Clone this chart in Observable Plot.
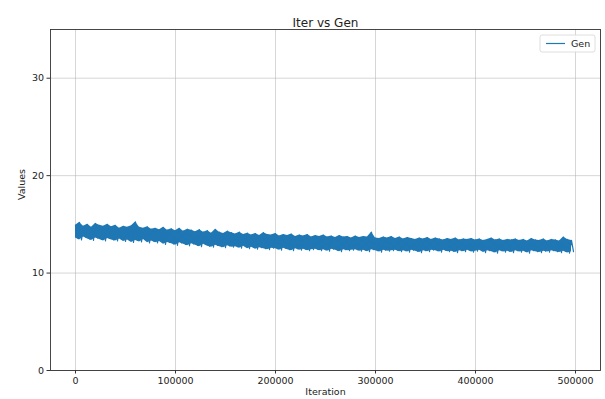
<!DOCTYPE html>
<html><head><meta charset="utf-8">
<script src="https://cdn.jsdelivr.net/npm/d3@7"></script>
<script src="https://cdn.jsdelivr.net/npm/@observablehq/plot@0.6"></script>
<style>body{margin:0;background:#fff;} svg{display:block;}</style>
</head><body><div id="chart"></div>
<script>
const title = "Iter vs Gen";
const xLabel = "Iteration";
const yLabel = "Values";
const seriesName = "Gen";
const xTicks = [0, 100000, 200000, 300000, 400000, 500000];
const yTicks = [0, 10, 20, 30];
const sampleStep = 2000;
// upper swings of the noisy series (at iterations 0, 4000, 8000, ...)
const genHigh = [
  14.9, 15.2, 14.8, 15.0, 14.7, 15.1, 14.9, 14.8, 15.0, 14.75,
  14.9, 14.6, 14.8, 14.7, 14.85, 15.25, 14.7, 14.6, 14.75, 14.5,
  14.6, 14.45, 14.7, 14.4, 14.55, 14.35, 14.6, 14.3, 14.5, 14.4,
  14.25, 14.45, 14.2, 14.35, 14.1, 14.5, 14.2, 14.05, 14.3, 14.15,
  14.0, 14.2, 13.95, 14.1, 13.9, 14.05, 13.85, 14.15, 13.95, 13.9,
  14.05, 13.8, 13.95, 13.85, 14.0, 13.75, 13.9, 13.8, 13.95, 13.7,
  13.85, 13.75, 13.9, 13.7, 13.8, 13.65, 13.85, 13.7, 13.75, 13.6,
  13.8, 13.65, 13.75, 13.7, 14.2, 13.6, 13.55, 13.7, 13.6, 13.75,
  13.55, 13.7, 13.5, 13.65, 13.55, 13.45, 13.6, 13.5, 13.65, 13.45,
  13.6, 13.5, 13.4, 13.55, 13.45, 13.6, 13.4, 13.5, 13.45, 13.55,
  13.4, 13.5, 13.35, 13.45, 13.6, 13.4, 13.5, 13.35, 13.45, 13.4,
  13.5, 13.35, 13.45, 13.3, 13.55, 13.4, 13.35, 13.5, 13.3, 13.45,
  13.4, 13.3, 13.7, 13.45, 13.35
];
// lower swings of the noisy series (at iterations 2000, 6000, 10000, ...)
const genLow = [
  13.6, 13.4, 13.7, 13.5, 13.35, 13.6, 13.45, 13.3, 13.55, 13.4,
  13.3, 13.5, 13.25, 13.4, 13.15, 13.35, 13.2, 13.45, 13.1, 13.3,
  13.1, 13.25, 12.95, 13.15, 13.0, 12.85, 13.1, 12.95, 12.8, 13.0,
  12.85, 12.7, 12.95, 12.75, 12.65, 12.85, 12.7, 12.6, 12.8, 12.65,
  12.7, 12.55, 12.75, 12.5, 12.65, 12.45, 12.6, 12.5, 12.4, 12.55,
  12.5, 12.35, 12.55, 12.4, 12.3, 12.5, 12.35, 12.45, 12.3, 12.4,
  12.45, 12.3, 12.4, 12.25, 12.45, 12.35, 12.2, 12.4, 12.3, 12.35,
  12.4, 12.25, 12.35, 12.2, 12.4, 12.3, 12.15, 12.35, 12.25, 12.3,
  12.35, 12.2, 12.3, 12.15, 12.35, 12.25, 12.1, 12.3, 12.2, 12.35,
  12.3, 12.15, 12.35, 12.2, 12.25, 12.1, 12.3, 12.2, 12.35, 12.15,
  12.25, 12.35, 12.1, 12.3, 12.2, 12.05, 12.3, 12.15, 12.25, 12.1,
  12.3, 12.15, 12.25, 12.05, 12.3, 12.2, 12.1, 12.25, 12.15, 12.3,
  12.2, 12.1, 12.25, 12.05, 12.2
];

// the raw series, alternating between its upper and lower swings
const data = [];
for (let i = 0; i < genHigh.length; i++) {
  data.push({iter: 2 * i * sampleStep, gen: genHigh[i]});
  if (i < genLow.length) data.push({iter: (2 * i + 1) * sampleStep, gen: genLow[i]});
}
// the dense oscillation renders as a solid band between the swings
const band = genHigh.map((hi, i) => ({iter: 2 * i * sampleStep, hi, lo: genLow[i]}));

const font = "'DejaVu Sans', sans-serif";
const lineColor = "#1f77b4";
const chart = Plot.plot({
  width: 605, height: 399,
  marginLeft: 50, marginRight: 5, marginTop: 29, marginBottom: 29,
  style: {fontFamily: font, fontSize: "9.5px", color: "#222", background: "#fff"},
  x: {domain: [-25000, 525000]},
  y: {domain: [0, 35]},
  marks: [
    Plot.gridX(xTicks, {stroke: "#b0b0b0", strokeOpacity: 0.65, strokeWidth: 0.8}),
    Plot.gridY(yTicks, {stroke: "#b0b0b0", strokeOpacity: 0.65, strokeWidth: 0.8}),
    Plot.areaY(band, {x: "iter", y1: "lo", y2: "hi", fill: lineColor}),
    Plot.line(data, {x: "iter", y: "gen", stroke: lineColor, strokeWidth: 1.2}),
    Plot.frame({stroke: "#333", strokeWidth: 0.9}),
    Plot.axisX(xTicks, {tickSize: 3.5, tickPadding: 3, tickFormat: d3.format("d"), label: null, stroke: "#333"}),
    Plot.axisY(yTicks, {tickSize: 3.5, tickPadding: 3, label: null, stroke: "#333"}),
    Plot.text([title], {text: d => d, frameAnchor: "top", dy: -11, fontSize: 12, fill: "#222"}),
    Plot.text([xLabel], {text: d => d, frameAnchor: "bottom", dy: 24, fontSize: 9.5, fill: "#222"}),
    Plot.text([yLabel], {text: d => d, frameAnchor: "left", dx: -29, rotate: -90, fontSize: 9.5, fill: "#222"})
  ]
});

// legend box (top-right, inside the frame)
const svg = d3.select(chart);
const lg = svg.append("g").attr("font-family", font).attr("font-size", 9.5).attr("text-anchor", "start");
lg.append("rect").attr("x", 540).attr("y", 35).attr("width", 55).attr("height", 17)
  .attr("rx", 2).attr("fill", "#fff").attr("fill-opacity", 0.85).attr("stroke", "#d5d5d5").attr("stroke-width", 0.8);
lg.append("line").attr("x1", 546).attr("x2", 565).attr("y1", 43.5).attr("y2", 43.5)
  .attr("stroke", lineColor).attr("stroke-width", 1.2);
lg.append("text").attr("x", 571).attr("y", 43.5).attr("dy", "0.35em").attr("text-anchor", "start").attr("fill", "#222").text(seriesName);

document.getElementById("chart").appendChild(chart);
</script>
</body></html>
